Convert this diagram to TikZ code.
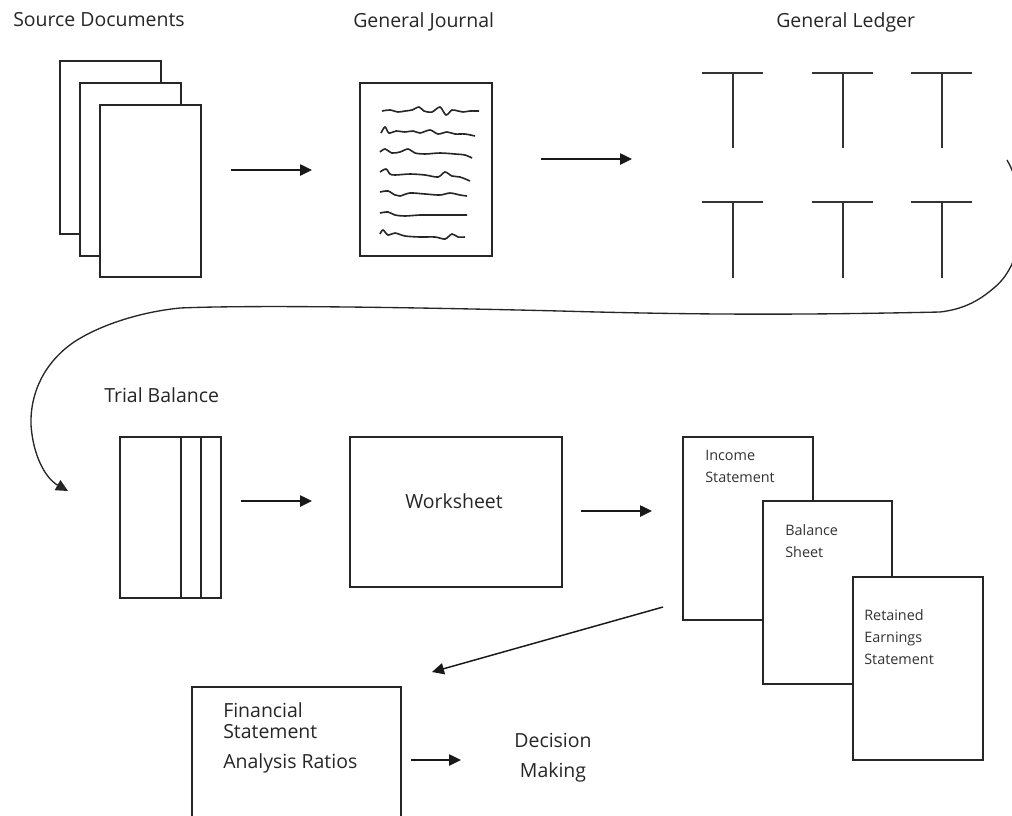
\documentclass[tikz,border=0pt]{standalone}
\usepackage{fontspec}
\setmainfont{Open Sans}
\usetikzlibrary{arrows.meta}
\begin{document}
\begin{tikzpicture}[x=0.75pt,y=-0.75pt,
  box/.style={draw=black!85,line width=1.4pt,fill=white,anchor=north west,inner sep=0pt,outer sep=0pt},
  lbl/.style={anchor=base west,inner sep=0pt,font=\fontsize{14.6}{17}\selectfont,text=black!85},
  lblc/.style={lbl,anchor=base},
  small/.style={anchor=base west,inner sep=0pt,font=\fontsize{10.8}{13}\selectfont,text=black!80},
  flow/.style={line width=1.1pt,black!90,-{Triangle[length=9pt,width=8.5pt]}},
  tacc/.style={line width=1.4pt,black!80},
  scrib/.style={line width=1.2pt,black!85},
  loopline/.style={line width=1pt,black!85,-{Triangle[length=9pt,width=8.5pt]}}
]
\clip (0,0) rectangle (1012,815);
\fill[white] (0,0) rectangle (1012,815);

% ---------- labels ----------
\node[lbl] (tsd) at (13,26) {Source Documents};
\node[lbl] (tgj) at (353,27) {General Journal};
\node[lbl] (tgl) at (776,27) {General Ledger};
\node[lbl] (ttb) at (104,402) {Trial Balance};

% ---------- source documents ----------
\node[box,minimum width=75.75pt,minimum height=129.75pt] (sd1) at (60,61) {};
\node[box,minimum width=75.75pt,minimum height=129.75pt] (sd2) at (80,83) {};
\node[box,minimum width=75.75pt,minimum height=129pt] (sd3) at (100,105) {};

% ---------- general journal ----------
\node[box,minimum width=99pt,minimum height=129.75pt] (gj) at (360,83) {};
\draw[scrib] plot[smooth,tension=0.5] coordinates {(382,111) (390,110) (398,112) (405,111) (412,110) (419,107) (424,111) (432,112) (440,107) (446,115) (452,110) (458,111) (463,112) (470,111) (479,111)};
\draw[scrib] plot[smooth,tension=0.5] coordinates {(381,133) (385,127) (389,133) (396,131) (405,132) (413,131) (420,133) (430,130) (438,134) (447,132) (455,134) (465,134) (475,136)};
\draw[scrib] plot[smooth,tension=0.5] coordinates {(380,152) (385,149) (392,153) (400,152) (408,149) (415,153) (425,154) (440,153) (455,154) (465,155) (472,158)};
\draw[scrib] plot[smooth,tension=0.5] coordinates {(380,172) (386,169) (390,174) (395,175) (410,174) (425,175) (438,177) (445,172) (452,176) (460,177) (470,181)};
\draw[scrib] plot[smooth,tension=0.5] coordinates {(380,192) (388,191) (395,195) (400,196) (410,193) (425,194) (440,195) (450,193) (460,195) (467,196)};
\draw[scrib] plot[smooth,tension=0.5] coordinates {(380,213) (388,212) (395,215) (405,216) (420,215) (435,215) (450,215) (467,215)};
\draw[scrib] plot[smooth,tension=0.5] coordinates {(380,234) (383,230) (388,235) (395,233) (405,236) (420,237) (435,237) (445,239) (452,234) (458,237) (465,237)};

% ---------- general ledger (T accounts) ----------
\foreach \cx in {733,843,942}{
  \foreach \ty/\by in {73/148,202/278}{
    \draw[tacc] (\cx-31,\ty) -- (\cx+30,\ty);
    \draw[tacc] (\cx,\ty) -- (\cx,\by);
  }
}

% ---------- trial balance ----------
\node[box,minimum width=75.75pt,minimum height=120.75pt] (tb) at (120,437) {};
\draw[line width=1.4pt,black!85] (181,437) -- (181,598);
\draw[line width=1.4pt,black!85] (201,437) -- (201,598);

% ---------- worksheet ----------
\node[box,minimum width=159pt,minimum height=112.5pt] (ws) at (350,437) {};
\node[lbl] (tws) at (405,508) {Worksheet};

% ---------- financial statements ----------
\node[box,minimum width=97.5pt,minimum height=137.25pt] (is) at (683,437) {};
\node[small] (tis1) at (705,460) {Income};
\node[small] (tis2) at (705,482) {Statement};
\node[box,minimum width=96.75pt,minimum height=137.25pt] (bs) at (763,501) {};
\node[small] (tbs1) at (785,535) {Balance};
\node[small] (tbs2) at (785,557) {Sheet};
\node[box,minimum width=97.5pt,minimum height=137.25pt] (re) at (853,577) {};
\node[small] (tre1) at (864,620) {Retained};
\node[small] (tre2) at (864,642) {Earnings};
\node[small] (tre3) at (864,664) {Statement};

% ---------- analysis ----------
\node[box,minimum width=156.75pt,minimum height=120pt] (fsa) at (192,687) {};
\node[lbl] (tf1) at (223,717) {Financial};
\node[lbl] (tf2) at (223,738) {Statement};
\node[lbl] (tf3) at (223,768) {Analysis Ratios};
\node[lblc] (tdm1) at (553,747) {Decision};
\node[lblc] (tdm2) at (553,777) {Making};

% ---------- arrow end points ----------
\coordinate (a1s) at (231,170); \coordinate (a1e) at (312,170);
\coordinate (a2s) at (541,159); \coordinate (a2e) at (632,159);
\coordinate (a3s) at (241,501); \coordinate (a3e) at (312,501);
\coordinate (a4s) at (581,511); \coordinate (a4e) at (652,511);
\coordinate (a5s) at (663,607); \coordinate (a5e) at (432,672);
\coordinate (a6s) at (411,760); \coordinate (a6e) at (461,760);
\coordinate (cs) at (1007,160); \coordinate (ce) at (68,491);

\draw[flow] (a1s) -- (a1e);
\draw[flow] (a2s) -- (a2e);
\draw[flow] (a3s) -- (a3e);
\draw[flow] (a4s) -- (a4e);
\draw[flow] (a5s) -- (a5e);
\draw[flow] (a6s) -- (a6e);

% ---------- loop connector ----------
\draw[loopline] (cs)
  .. controls (1030,200) and (1025,262) .. (995,287)
  .. controls (980,300) and (965,309) .. (940,312)
  .. controls (800,315) and (700,315) .. (560,311)
  .. controls (400,307) and (250,305) .. (180,308)
  .. controls (140,312) and (100,325) .. (74,342)
  .. controls (45,362) and (30,392) .. (31,425)
  .. controls (33,455) and (45,478) .. (ce);
\end{tikzpicture}
\end{document}
